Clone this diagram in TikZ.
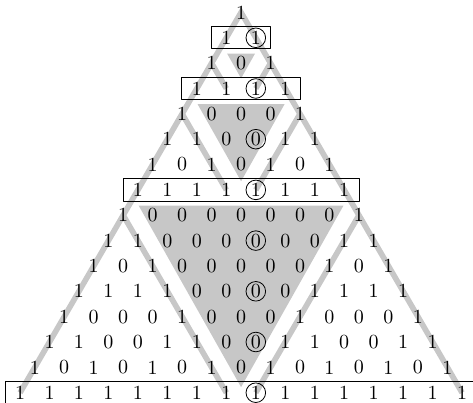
\documentclass[tikz,border=0pt]{standalone}
\usepackage{tikz}
\usetikzlibrary{fit,backgrounds}

\begin{document}
\begin{tikzpicture}[x=7.37pt,y=12.68pt,line join=round,
  entry/.style={inner sep=0pt},
  rowbox/.style={draw,inner xsep=4.8pt,inner ysep=2pt},
  zeros/.style={fill=black!22},
  sierp/.style={draw=black!22,line width=2.8pt,line join=miter}]
  \useasboundingbox (-16.36,0.49) rectangle (15.74,-15.39);
  % Pascal's triangle mod 2, row n at y=-n
  \foreach \vals [count=\n from 0] in {{1},{1,1},{1,0,1},{1,1,1,1},
      {1,0,0,0,1},{1,1,0,0,1,1},{1,0,1,0,1,0,1},{1,1,1,1,1,1,1,1},
      {1,0,0,0,0,0,0,0,1},{1,1,0,0,0,0,0,0,1,1},{1,0,1,0,0,0,0,0,1,0,1},
      {1,1,1,1,0,0,0,0,1,1,1,1},{1,0,0,0,1,0,0,0,1,0,0,0,1},
      {1,1,0,0,1,1,0,0,1,1,0,0,1,1},{1,0,1,0,1,0,1,0,1,0,1,0,1,0,1},
      {1,1,1,1,1,1,1,1,1,1,1,1,1,1,1,1}}
    \foreach \v [count=\k from 0] in \vals
      \node[entry] (p\n-\k) at (2*\k-\n,-\n) {\v};
  \begin{scope}[on background layer]
    % blocks of zeros
    \fill[zeros] (-0.95,-1.62) -- (0.95,-1.62) -- (0,-2.6) -- cycle;
    \fill[zeros] (-2.95,-3.62) -- (2.95,-3.62) -- (0,-6.66) -- cycle;
    \fill[zeros] (-6.95,-7.62) -- (6.95,-7.62) -- (0,-14.78) -- cycle;
    % outline of the Sierpinski pattern
    \draw[sierp] (p15-0.center) -- (p0-0.center) -- (p15-15.center);
    \draw[sierp] (p8-0.center) -- (p15-7.center);
    \draw[sierp] (p8-8.center) -- (p15-8.center);
    \draw[sierp] (p4-0.center) -- (p7-3.center);
    \draw[sierp] (p4-4.center) -- (p7-4.center);
    \draw[sierp] (p2-0.center) -- (p3-1.center);
    \draw[sierp] (p2-2.center) -- (p3-2.center);
  \end{scope}
  % rows 2^m-1
  \node[rowbox,fit=(p1-0)(p1-1)] (row1) {};
  \node[rowbox,fit=(p3-0)(p3-3)] (row3) {};
  \node[rowbox,fit=(p7-0)(p7-7)] (row7) {};
  \node[rowbox,fit=(p15-0)(p15-15)] (row15) {};
  % middle entries of the odd rows
  \foreach \n/\k in {1/1,3/2,5/3,7/4,9/5,11/6,13/7,15/8}
    \draw (p\n-\k.center) circle[radius=4.9pt];
\end{tikzpicture}
\end{document}
